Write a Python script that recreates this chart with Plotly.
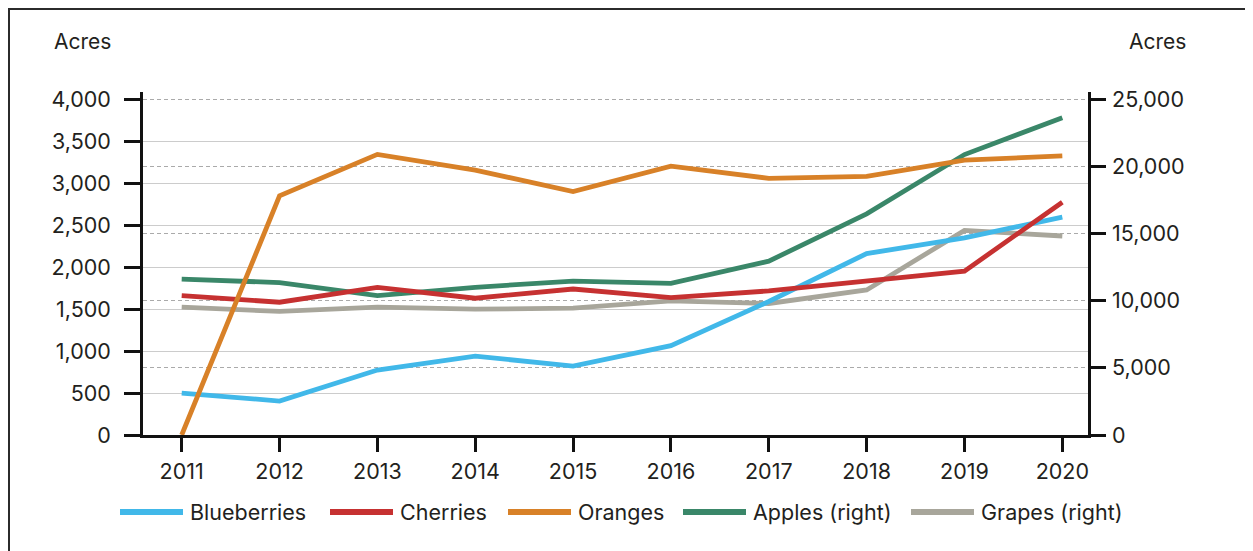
import plotly.graph_objects as go

years = [2011, 2012, 2013, 2014, 2015, 2016, 2017, 2018, 2019, 2020]
blueberries = [500, 405, 775, 940, 822, 1065, 1592, 2164, 2350, 2598]
cherries = [1663, 1583, 1761, 1631, 1741, 1639, 1718, 1836, 1954, 2776]
oranges = [0, 2851, 3346, 3159, 2902, 3205, 3060, 3084, 3277, 3328]
apples_right = [11623, 11356, 10393, 11007, 11474, 11303, 12955, 16485, 20900, 23643]
grapes_right = [9527, 9208, 9527, 9380, 9453, 9993, 9800, 10807, 15249, 14832]

left_ticks = [0, 500, 1000, 1500, 2000, 2500, 3000, 3500, 4000]
right_ticks = [0, 5000, 10000, 15000, 20000, 25000]
unit_label = "Acres"

names = ["Blueberries", "Cherries", "Oranges", "Apples (right)", "Grapes (right)"]
colors = ["#41b8e9", "#c63131", "#d88128", "#3a8769", "#a8a69b"]

# page body has an 8px margin: work in screen pixels, convert to figure pixels
OFF = 8
W, H = 1253, 551
PL, PR, PT, PB = 143, 1088, 92, 435   # plot area in screen pixels
ML, MT = PL - OFF, PT - OFF
MR = (W + OFF) - PR
MB = (H + OFF) - PB
PW, PH = PR - PL, PB - PT

def px_x(px):
    return (px - PL) / PW

def px_y(py):
    return (PB - py) / PH

FONT = "Inter"
TXT = "#231f20"
LW = 4.8

fig = go.Figure()

for name, vals, col in [(names[3], apples_right, colors[3]), (names[4], grapes_right, colors[4])]:
    fig.add_trace(go.Scatter(x=years, y=vals, name=name, mode="lines",
                             line=dict(color=col, width=LW), yaxis="y", showlegend=False))
fig.add_trace(go.Scatter(x=[], y=[], yaxis="y3", showlegend=False, hoverinfo="skip"))
for name, vals, col in [(names[0], blueberries, colors[0]), (names[1], cherries, colors[1]),
                        (names[2], oranges, colors[2])]:
    fig.add_trace(go.Scatter(x=years, y=vals, name=name, mode="lines",
                             line=dict(color=col, width=LW), yaxis="y2", showlegend=False))

left_max = 4090
right_max = left_max * 25000 / 4000

axis_common = dict(showline=True, linecolor="#111111", linewidth=2.5, ticks="outside",
                   tickwidth=2.5, tickcolor="#111111", zeroline=False,
                   tickfont=dict(family=FONT, size=21.5, color=TXT))

fig.update_layout(
    width=W, height=H,
    margin=dict(l=ML, r=MR, t=MT, b=MB),
    paper_bgcolor="white", plot_bgcolor="white",
    font=dict(family=FONT, size=21, color=TXT),
    showlegend=False,
    xaxis=dict(range=[2010.6045, 2020.2626], tickvals=years, ticklen=14, showgrid=False,
               ticklabelstandoff=1, **axis_common),
    yaxis=dict(side="right", range=[0, right_max], tickvals=right_ticks,
               ticktext=[f"{v:,}" for v in right_ticks], ticklen=15,
               showgrid=True, gridcolor="#aaaaaa", gridwidth=1.4, griddash="4px,3px",
               ticklabelstandoff=2, **axis_common),
    yaxis2=dict(side="left", overlaying="y", range=[0, left_max], tickvals=left_ticks,
                ticktext=[f"{v:,}" for v in left_ticks], ticklen=16, showgrid=False,
                ticklabelstandoff=9, **axis_common),
    yaxis3=dict(overlaying="y", range=[0, left_max], tickvals=left_ticks[1:-1],
                showgrid=True, gridcolor="#cccccc", gridwidth=1.4, showticklabels=False,
                ticks="", showline=False, zeroline=False),
)

shapes = []
annotations = []
shapes.append(dict(type="rect", xref="paper", yref="paper",
                   x0=px_x(8.5), x1=px_x(W + 20), y0=px_y(H + 20), y1=px_y(8.5),
                   line=dict(color="#2b2b2b", width=3), fillcolor="rgba(0,0,0,0)", layer="above"))
annotations.append(dict(text=unit_label, xref="paper", yref="paper", x=px_x(52), y=px_y(42),
                        xanchor="left", yanchor="middle", showarrow=False,
                        font=dict(family=FONT, size=21, color=TXT)))
annotations.append(dict(text=unit_label, xref="paper", yref="paper", x=px_x(1127), y=px_y(42),
                        xanchor="left", yanchor="middle", showarrow=False,
                        font=dict(family=FONT, size=21, color=TXT)))
legend_x = [120, 330, 508, 683, 911]
legend_len = 63
legend_y = 512
for nm, col, lx in zip(names, colors, legend_x):
    shapes.append(dict(type="line", xref="paper", yref="paper",
                       x0=px_x(lx), x1=px_x(lx + legend_len), y0=px_y(legend_y), y1=px_y(legend_y),
                       line=dict(color=col, width=6)))
    annotations.append(dict(text=nm, xref="paper", yref="paper", x=px_x(lx + legend_len + 5),
                            y=px_y(legend_y), xanchor="left", yanchor="middle", showarrow=False,
                            font=dict(family=FONT, size=21.5, color=TXT)))

fig.update_layout(shapes=shapes, annotations=annotations)
fig.write_html("out.html")
